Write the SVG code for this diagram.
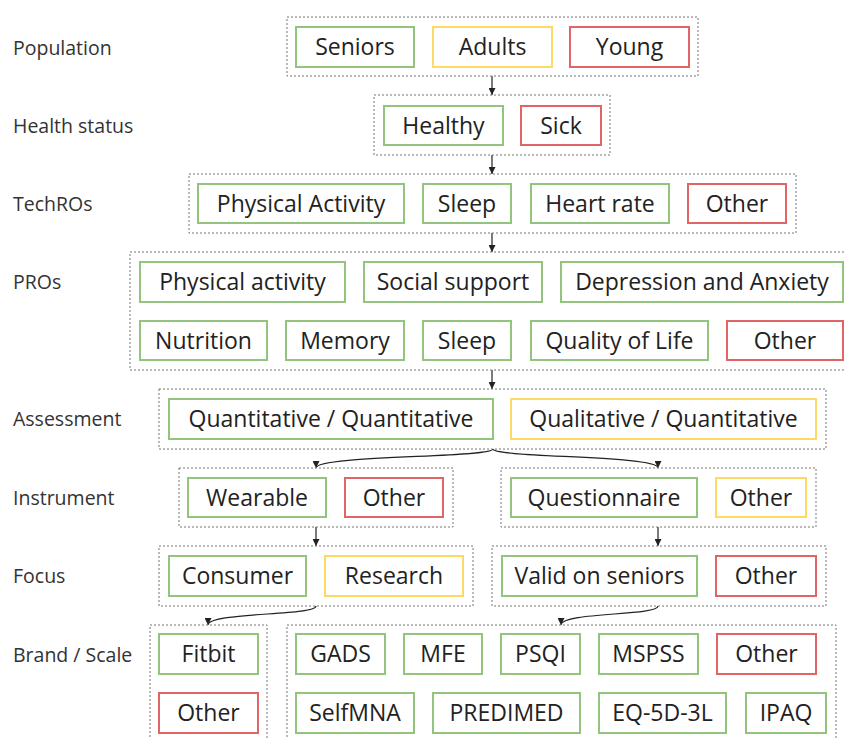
<svg xmlns="http://www.w3.org/2000/svg" width="844" height="738" viewBox="0 0 844 738">
<defs>
<marker id="ah" viewBox="0 0 8 8" refX="8" refY="4" markerWidth="7" markerHeight="7" markerUnits="userSpaceOnUse" orient="auto">
<path d="M0,0 L8,4 L0,8 z" fill="#222"/>
</marker>
</defs>
<style>
.lbl{font-family:"Open Sans","Noto Sans",sans-serif;font-size:19.5px;fill:#333}
.t{font-family:"Open Sans","Noto Sans",sans-serif;font-size:23px;fill:#222;text-anchor:middle}
.grp{fill:none;stroke:#777;stroke-width:1;stroke-dasharray:2,2}
.g{fill:#fff;stroke:#93c47d;stroke-width:2}
.y{fill:#fff;stroke:#ffd966;stroke-width:2}
.r{fill:#fff;stroke:#e06666;stroke-width:2}
.c{fill:none;stroke:#222;stroke-width:1.2;marker-end:url(#ah)}
</style>
<rect width="844" height="738" fill="#fff"/>
<g id="labels">
<text class="lbl" x="13" y="55">Population</text>
<text class="lbl" x="13" y="133">Health status</text>
<text class="lbl" x="13" y="211">TechROs</text>
<text class="lbl" x="13" y="289">PROs</text>
<text class="lbl" x="13" y="426">Assessment</text>
<text class="lbl" x="13" y="505">Instrument</text>
<text class="lbl" x="13" y="583">Focus</text>
<text class="lbl" x="13" y="662">Brand / Scale</text>
</g>
<g id="connectors">
<path class="c" d="M492,76 L492,95"/>
<path class="c" d="M492,155 L492,174"/>
<path class="c" d="M492,233 L492,252"/>
<path class="c" d="M492,370 L492,389"/>
<path class="c" d="M493,449 C493,458 316,455 316,468"/>
<path class="c" d="M493,449 C493,458 658,455 658,468"/>
<path class="c" d="M316,527 L316,546"/>
<path class="c" d="M658,527 L658,546"/>
<path class="c" d="M316,606 C316,616 208,612 208,625"/>
<path class="c" d="M658,606 C658,616 561,612 561,625"/>
</g>
<g id="population">
<rect class="grp" x="287" y="17" width="411" height="59"/>
<g id="n-seniors"><rect class="g" x="296" y="27" width="118" height="40"/><text class="t" x="355" y="55">Seniors</text></g>
<g id="n-adults"><rect class="y" x="433" y="27" width="119" height="40"/><text class="t" x="492.5" y="55">Adults</text></g>
<g id="n-young"><rect class="r" x="570" y="27" width="119" height="40"/><text class="t" x="629.5" y="55">Young</text></g>
</g>
<g id="health">
<rect class="grp" x="374" y="95" width="236" height="60"/>
<g id="n-healthy"><rect class="g" x="384" y="106" width="119" height="39"/><text class="t" x="443.5" y="133.5">Healthy</text></g>
<g id="n-sick"><rect class="r" x="521" y="106" width="80" height="39"/><text class="t" x="561" y="133.5">Sick</text></g>
</g>
<g id="techros">
<rect class="grp" x="189" y="174" width="607" height="59"/>
<g id="n-tpa"><rect class="g" x="198" y="184" width="206" height="39"/><text class="t" x="301" y="211.5">Physical Activity</text></g>
<g id="n-tsleep"><rect class="g" x="423" y="184" width="88" height="39"/><text class="t" x="467" y="211.5">Sleep</text></g>
<g id="n-thr"><rect class="g" x="531" y="184" width="138" height="39"/><text class="t" x="600" y="211.5">Heart rate</text></g>
<g id="n-tother"><rect class="r" x="688" y="184" width="98" height="39"/><text class="t" x="737" y="211.5">Other</text></g>
</g>
<g id="pros">
<rect class="grp" x="130" y="252" width="730" height="118"/>
<g id="n-ppa"><rect class="g" x="140" y="262" width="205" height="40"/><text class="t" x="242.5" y="290">Physical activity</text></g>
<g id="n-pss"><rect class="g" x="364" y="262" width="178" height="40"/><text class="t" x="453" y="290">Social support</text></g>
<g id="n-pda"><rect class="g" x="561" y="262" width="282" height="40"/><text class="t" x="702" y="290">Depression and Anxiety</text></g>
<g id="n-pnut"><rect class="g" x="140" y="321" width="127" height="39"/><text class="t" x="203.5" y="348.5">Nutrition</text></g>
<g id="n-pmem"><rect class="g" x="286" y="321" width="118" height="39"/><text class="t" x="345" y="348.5">Memory</text></g>
<g id="n-psleep"><rect class="g" x="423" y="321" width="88" height="39"/><text class="t" x="467" y="348.5">Sleep</text></g>
<g id="n-pqol"><rect class="g" x="531" y="321" width="177" height="39"/><text class="t" x="619.5" y="348.5">Quality of Life</text></g>
<g id="n-pother"><rect class="r" x="727" y="321" width="116" height="39"/><text class="t" x="785" y="348.5">Other</text></g>
</g>
<g id="assessment">
<rect class="grp" x="159" y="389" width="667" height="60"/>
<g id="n-qq"><rect class="g" x="169" y="399" width="324" height="40"/><text class="t" x="331" y="427">Quantitative / Quantitative</text></g>
<g id="n-qlq"><rect class="y" x="511" y="399" width="305" height="40"/><text class="t" x="663.5" y="427">Qualitative / Quantitative</text></g>
</g>
<g id="instrument-left">
<rect class="grp" x="179" y="468" width="274" height="59"/>
<g id="n-wear"><rect class="g" x="188" y="478" width="138" height="39"/><text class="t" x="257" y="505.5">Wearable</text></g>
<g id="n-iother1"><rect class="r" x="345" y="478" width="98" height="39"/><text class="t" x="394" y="505.5">Other</text></g>
</g>
<g id="instrument-right">
<rect class="grp" x="501" y="468" width="315" height="59"/>
<g id="n-quest"><rect class="g" x="511" y="478" width="186" height="39"/><text class="t" x="604" y="505.5">Questionnaire</text></g>
<g id="n-iother2"><rect class="y" x="716" y="478" width="90" height="39"/><text class="t" x="761" y="505.5">Other</text></g>
</g>
<g id="focus-left">
<rect class="grp" x="159" y="546" width="314" height="60"/>
<g id="n-cons"><rect class="g" x="169" y="556" width="137" height="40"/><text class="t" x="237.5" y="584">Consumer</text></g>
<g id="n-res"><rect class="y" x="325" y="556" width="138" height="40"/><text class="t" x="394" y="584">Research</text></g>
</g>
<g id="focus-right">
<rect class="grp" x="492" y="546" width="334" height="60"/>
<g id="n-valid"><rect class="g" x="502" y="556" width="195" height="40"/><text class="t" x="599.5" y="584">Valid on seniors</text></g>
<g id="n-fother"><rect class="r" x="716" y="556" width="100" height="40"/><text class="t" x="766" y="584">Other</text></g>
</g>
<g id="brand">
<rect class="grp" x="150" y="625" width="117" height="125"/>
<g id="n-fitbit"><rect class="g" x="159" y="634" width="99" height="40"/><text class="t" x="208.5" y="662">Fitbit</text></g>
<g id="n-bother"><rect class="r" x="159" y="693" width="99" height="40"/><text class="t" x="208.5" y="721">Other</text></g>
</g>
<g id="scale">
<rect class="grp" x="287" y="625" width="549" height="125"/>
<g id="n-gads"><rect class="g" x="296" y="634" width="89" height="40"/><text class="t" x="340.5" y="662">GADS</text></g>
<g id="n-mfe"><rect class="g" x="404" y="634" width="78" height="40"/><text class="t" x="443" y="662">MFE</text></g>
<g id="n-psqi"><rect class="g" x="501" y="634" width="79" height="40"/><text class="t" x="540.5" y="662">PSQI</text></g>
<g id="n-mspss"><rect class="g" x="599" y="634" width="99" height="40"/><text class="t" x="648.5" y="662">MSPSS</text></g>
<g id="n-sother"><rect class="r" x="717" y="634" width="99" height="40"/><text class="t" x="766.5" y="662">Other</text></g>
<g id="n-selfmna"><rect class="g" x="296" y="693" width="118" height="40"/><text class="t" x="355" y="721">SelfMNA</text></g>
<g id="n-predimed"><rect class="g" x="433" y="693" width="147" height="40"/><text class="t" x="506.5" y="721">PREDIMED</text></g>
<g id="n-eq5d"><rect class="g" x="599" y="693" width="127" height="40"/><text class="t" x="662.5" y="721">EQ-5D-3L</text></g>
<g id="n-ipaq"><rect class="g" x="746" y="693" width="80" height="40"/><text class="t" x="786" y="721">IPAQ</text></g>
</g>
</svg>
